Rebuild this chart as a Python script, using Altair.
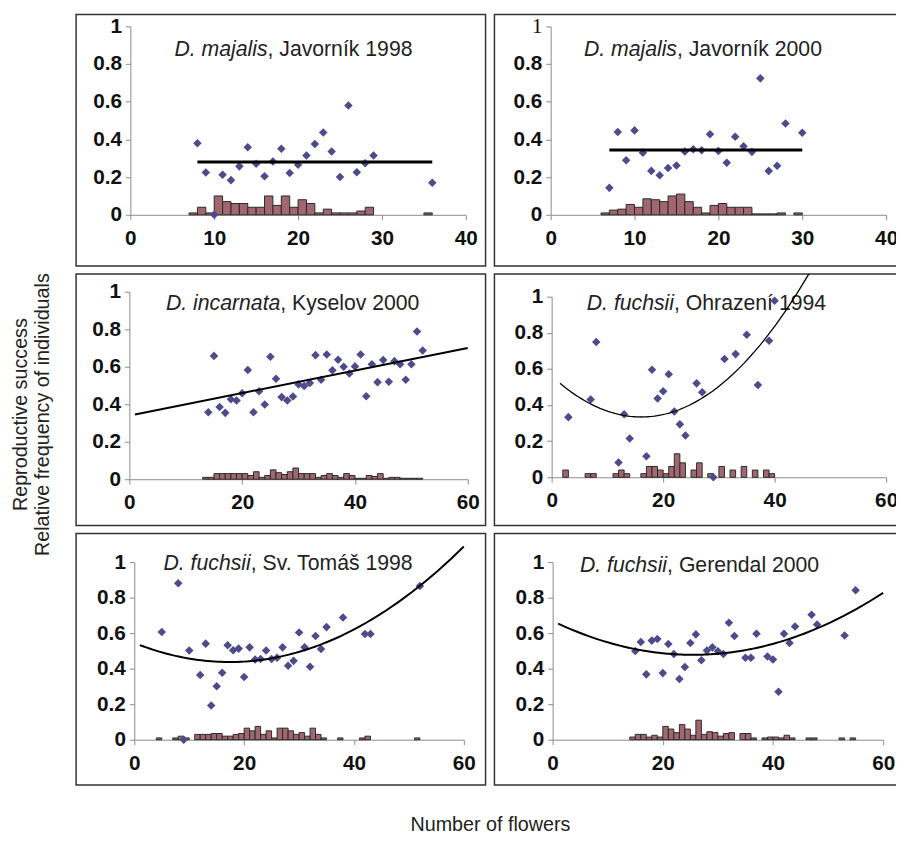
import altair as alt
import pandas as pd

FONT = "Liberation Sans"
PT = "#4C4C8C"
BAR = "#A0686E"

# ---------------- data ----------------
# Panel 1: D. majalis, Javornik 1998
p1_x = [8, 9, 10, 11, 12, 13, 14, 15, 16, 17, 18, 19, 20, 21, 22, 23, 24, 25, 26, 27, 28, 29, 36]
p1_y = [0.38, 0.225, 0.0, 0.213, 0.184, 0.257, 0.358, 0.271, 0.205, 0.283, 0.35, 0.222, 0.266,
        0.315, 0.376, 0.437, 0.336, 0.201, 0.58, 0.226, 0.274, 0.315, 0.17]
p1_f = [0.01, 0.04, 0.01, 0.10, 0.07, 0.06, 0.06, 0.04, 0.04, 0.10, 0.05, 0.10, 0.04,
        0.08, 0.06, 0.01, 0.03, 0.01, 0.01, 0.01, 0.02, 0.04, 0.01]

# Panel 2: D. majalis, Javornik 2000
p2_x = [7, 8, 9, 10, 11, 12, 13, 14, 15, 16, 17, 18, 19, 20, 21, 22, 23, 24, 25, 26, 27, 28, 30]
p2_y = [0.143, 0.439, 0.29, 0.448, 0.329, 0.233, 0.21, 0.248, 0.262, 0.336, 0.348, 0.343, 0.427,
        0.339, 0.276, 0.414, 0.364, 0.334, 0.724, 0.233, 0.26, 0.484, 0.435]
p2_f = [0.01, 0.025, 0.03, 0.055, 0.04, 0.085, 0.08, 0.07, 0.10, 0.11, 0.07, 0.04, 0.01,
        0.05, 0.06, 0.04, 0.04, 0.04, 0.005, 0.005, 0.005, 0.01, 0.01]

# Panel 3: D. incarnata, Kyselov 2000
p3_x = list(range(14, 53))
p3_y = [0.357, 0.658, 0.385, 0.354, 0.427, 0.42, 0.459, 0.583, 0.357, 0.469, 0.399, 0.653, 0.536,
        0.438, 0.42, 0.441, 0.506, 0.497, 0.513, 0.662, 0.531, 0.665, 0.581, 0.637, 0.6, 0.564,
        0.602, 0.665, 0.443, 0.613, 0.518, 0.636, 0.52, 0.63, 0.613, 0.531, 0.613, 0.788, 0.687]
p3_f = [0.01, 0.01, 0.03, 0.03, 0.03, 0.03, 0.03, 0.03, 0.02, 0.04, 0.01, 0.02, 0.05,
        0.035, 0.025, 0.04, 0.06, 0.03, 0.03, 0.03, 0.01, 0.02, 0.03, 0.02, 0.01, 0.03,
        0.02, 0.005, 0.005, 0.02, 0.015, 0.03, 0.005, 0.01, 0.01, 0.005, 0.005, 0.005, 0.005]

# Panel 4: D. fuchsii, Ohrazeni 1994
p4_x = [3, 7, 8, 12, 13, 14, 17, 18, 19, 20, 21, 22, 23, 24, 26, 27, 29, 31, 33, 35, 37, 39, 40]
p4_y = [0.333, 0.431, 0.749, 0.082, 0.349, 0.215, 0.116, 0.595, 0.436, 0.476, 0.571, 0.364,
        0.293, 0.231, 0.52, 0.471, 0.0, 0.655, 0.682, 0.789, 0.511, 0.756, 0.978]
p4_f = [0.04, 0.02, 0.02, 0.02, 0.04, 0.02, 0.02, 0.06, 0.06, 0.04, 0.02, 0.06,
        0.13, 0.08, 0.04, 0.08, 0.02, 0.06, 0.04, 0.06, 0.04, 0.04, 0.02]

# Panel 5: D. fuchsii, Sv. Tomas 1998
p5_x = [5, 8, 9, 10, 12, 13, 14, 15, 16, 17, 18, 19, 20, 21, 22, 23, 24, 25, 26, 27, 28, 29,
        30, 31, 32, 33, 34, 35, 38, 42, 43, 52]
p5_y = [0.606, 0.881, 0.0, 0.502, 0.364, 0.541, 0.193, 0.301, 0.377, 0.532, 0.504, 0.513,
        0.353, 0.52, 0.452, 0.454, 0.502, 0.454, 0.461, 0.52, 0.416, 0.444, 0.604, 0.52,
        0.411, 0.584, 0.511, 0.634, 0.688, 0.595, 0.595, 0.866]
p5_f = [0.01, 0.01, 0.02, 0.01, 0.03, 0.03, 0.03, 0.035, 0.035, 0.02, 0.02, 0.03,
        0.035, 0.065, 0.05, 0.075, 0.03, 0.05, 0.01, 0.065, 0.065, 0.05, 0.03, 0.04,
        0.02, 0.065, 0.03, 0.01, 0.01, 0.01, 0.02, 0.01]

# Panel 6: D. fuchsii, Gerendal 2000
p6_x = [15, 16, 17, 18, 19, 20, 21, 22, 23, 24, 25, 26, 27, 28, 29, 30, 31, 32, 33, 35, 36,
        37, 39, 40, 41, 42, 43, 44, 47, 48, 53, 55]
p6_y = [0.5, 0.55, 0.368, 0.558, 0.567, 0.375, 0.539, 0.483, 0.342, 0.409, 0.545, 0.593,
        0.448, 0.502, 0.52, 0.498, 0.483, 0.658, 0.584, 0.461, 0.461, 0.597, 0.468, 0.452,
        0.27, 0.597, 0.545, 0.638, 0.704, 0.649, 0.587, 0.842]
p6_f = [0.015, 0.03, 0.03, 0.015, 0.025, 0.015, 0.075, 0.06, 0.04, 0.085, 0.06, 0.025,
        0.11, 0.03, 0.045, 0.04, 0.02, 0.035, 0.04, 0.035, 0.035, 0.01, 0.01, 0.015,
        0.015, 0.01, 0.025, 0.01, 0.01, 0.01, 0.01, 0.01]

titles_it = ["D. majalis", "D. majalis", "D. incarnata", "D. fuchsii", "D. fuchsii", "D. fuchsii"]
titles_rest = [", Javorník 1998", ", Javorník 2000", ", Kyselov 2000", ", Ohrazení 1994",
               ", Sv. Tomáš 1998", ", Gerendal 2000"]
x_ticks_40 = [0, 10, 20, 30, 40]
x_ticks_60 = [0, 20, 40, 60]
y_ticks = [0, 0.2, 0.4, 0.6, 0.8, 1]

# ---------------- layout (pixels inside each bordered box) ----------------
W, H = 415, 255
layout = [
    dict(xr=[55, 395], yr=[203, 12], xmax=40, ticks=x_ticks_40, sx=194, sy=42, fit="mean", sw=3),
    dict(xr=[57, 397], yr=[203, 12], xmax=40, ticks=x_ticks_40, sx=185, sy=42, fit="mean", sw=3),
    dict(xr=[54, 397], yr=[208, 18], xmax=60, ticks=x_ticks_60, sx=207, sy=36, fit="linear", ext=[1, 60], sw=2),
    dict(xr=[58, 397], yr=[206, 23], xmax=60, ticks=x_ticks_60, sx=182, sy=36, fit="poly", ext=[1.5, 50], sw=1.3),
    dict(xr=[59, 393], yr=[209, 29], xmax=60, ticks=x_ticks_60, sx=177, sy=37, fit="poly", ext=[1, 60], sw=2),
    dict(xr=[59, 394], yr=[209, 29], xmax=60, ticks=x_ticks_60, sx=175, sy=39, fit="poly", ext=[1, 60], sw=2),
]
series = [(p1_x, p1_y, p1_f), (p2_x, p2_y, p2_f), (p3_x, p3_y, p3_f),
          (p4_x, p4_y, p4_f), (p5_x, p5_y, p5_f), (p6_x, p6_y, p6_f)]


def panel(i):
    L = layout[i]
    xs, ys, fs = series[i]
    df = pd.DataFrame({"x": xs, "y": ys, "f": fs})
    xscale = alt.Scale(domain=[0, L["xmax"]], range=L["xr"], nice=False, zero=False)
    yscale = alt.Scale(domain=[0, 1], range=L["yr"], nice=False)
    xaxis = alt.Axis(values=L["ticks"], title=None, grid=False, offset=L["yr"][0] - H,
                     labelFlush=False, labelPadding=8, format="d")
    if i == 1:
        yaxis = alt.Axis(values=y_ticks, title=None, grid=False, offset=-L["xr"][0], format="~g",
                         labelFlush=False, labelPadding=4,
                         labelFont=alt.condition("datum.value == 1", alt.value("Liberation Serif"), alt.value(FONT)),
                         labelFontWeight=alt.condition("datum.value == 1", alt.value("normal"), alt.value("bold")))
    else:
        yaxis = alt.Axis(values=y_ticks, title=None, grid=False, offset=-L["xr"][0], format="~g",
                         labelFlush=False, labelPadding=4)

    base = alt.Chart(df)
    bars = base.transform_calculate(lo="datum.x - 1").mark_rect(
        color=BAR, stroke="#2a2a2a", strokeWidth=1
    ).encode(
        x=alt.X("lo:Q", scale=xscale, axis=xaxis),
        x2="x:Q",
        y=alt.Y("f:Q", scale=yscale, axis=yaxis),
        y2=alt.datum(0),
    )
    pts = base.mark_point(shape="diamond", filled=True, size=75, color=PT, opacity=1).encode(
        x=alt.X("x:Q", scale=xscale, axis=xaxis),
        y=alt.Y("y:Q", scale=yscale, axis=yaxis),
    )
    if L["fit"] == "mean":
        fit = base.mark_rule(color="black", strokeWidth=L["sw"]).encode(
            x=alt.X("min(x):Q", scale=xscale, axis=xaxis),
            x2="max(x):Q",
            y=alt.Y("mean(y):Q", scale=yscale, axis=yaxis),
        )
    elif L["fit"] == "linear":
        fit = base.transform_regression("x", "y", method="linear", extent=L["ext"]).mark_line(
            color="black", strokeWidth=L["sw"], clip=True
        ).encode(
            x=alt.X("x:Q", scale=xscale, axis=xaxis),
            y=alt.Y("y:Q", scale=yscale, axis=yaxis),
        )
    else:
        fit = base.transform_regression("x", "y", method="poly", order=2, extent=L["ext"]).mark_line(
            color="black", strokeWidth=L["sw"], clip=True
        ).encode(
            x=alt.X("x:Q", scale=xscale, axis=xaxis),
            y=alt.Y("y:Q", scale=yscale, axis=yaxis),
        )
    t1 = alt.Chart(pd.DataFrame({"t": [titles_it[i]]})).mark_text(
        font=FONT, fontSize=21.5, fontStyle="italic", align="right", baseline="alphabetic", color="#222"
    ).encode(text="t:N", x=alt.value(L["sx"]), y=alt.value(L["sy"]))
    t2 = alt.Chart(pd.DataFrame({"t": [titles_rest[i]]})).mark_text(
        font=FONT, fontSize=21.5, align="left", baseline="alphabetic", color="#222"
    ).encode(text="t:N", x=alt.value(L["sx"]), y=alt.value(L["sy"]))
    return alt.layer(t1, t2, bars, pts, fit).properties(width=W, height=H)


rows = [alt.hconcat(panel(2 * r), panel(2 * r + 1), spacing=7) for r in range(3)]
grid = alt.vconcat(
    *rows, spacing=6,
    title=alt.TitleParams(["Reproductive success", "Relative frequency of individuals"],
                          orient="left", anchor="middle", offset=23, lineHeight=22, dx=-15,
                          fontSize=20),
)
chart = alt.vconcat(
    grid,
    title=alt.TitleParams("Number of flowers", orient="bottom", anchor="middle", offset=30, dx=33,
                          fontSize=20),
    padding={"left": 3, "top": 0, "right": -9, "bottom": -4},
).configure_view(stroke="#333", strokeWidth=1.5).configure_axis(
    labelFont=FONT, labelFontSize=21, labelFontWeight="bold", labelColor="#111",
    domainColor="#8a8a8a", tickColor="#8a8a8a", tickSize=5, domainWidth=1,
).configure_title(font=FONT, fontSize=20, fontWeight="normal", color="#222")

chart.save("out.html", embed_options={"renderer": "svg", "actions": False})
